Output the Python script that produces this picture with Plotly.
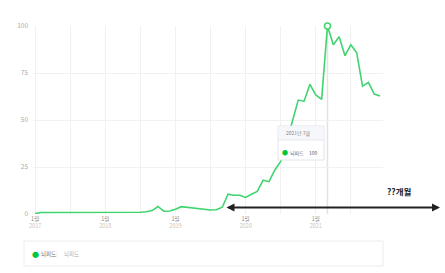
import plotly.graph_objects as go

years = [2017, 2018, 2019, 2020, 2021]
month_labels = ["1월", "", "", "", "", "", "", "", "", "", "", ""]
values = [
    # 2017
    0.2, 0.8, 0.8, 0.8, 0.9, 0.9, 0.9, 0.8, 0.8, 0.8, 0.8, 0.8,
    # 2018
    0.8, 0.8, 0.8, 0.7, 0.7, 0.8, 0.9, 1.2, 1.8, 4.0, 1.5, 1.6,
    # 2019
    2.5, 3.9, 3.5, 3.0, 2.5, 2.2, 2.1, 2.3, 3.6, 10.5, 10.0, 10.0,
    # 2020
    8.8, 10.5, 12.0, 18.0, 17.2, 23.4, 28.0, 38.0, 50.0, 60.6, 60.0, 69.0,
    # 2021
    63.3, 61.0, 100, 90.0, 94.3, 84.2, 90.0, 85.8, 68.0, 70.0, 63.8, 62.8,
]
series_name = "뇌피드"
peak_label = "2021년 3월"
arrow_text = "??개월"
y_ticks = [0, 25, 50, 75, 100]

idx = list(range(len(values)))
peak_i = values.index(max(values))

FONT = "Noto Sans CJK KR"
GREEN = "#3fd46f"
W, H = 445, 273
L, R, T, B = 33, 62, 26, 59
PW, PH = W - L - R, H - T - B


def px(x):
    return (x - L) / PW


def py(y):
    return (H - B - y) / PH


tickvals = list(range(0, len(values), 6))
ticktext = []
for v in tickvals:
    if v % 12 == 0:
        ticktext.append(
            f"<span style='color:#8a8a8a'>{month_labels[0]}</span><br>"
            f"<span style='color:#c4c4c4'>{years[v // 12]}</span>")
    else:
        ticktext.append("")

fig = go.Figure()
fig.add_trace(go.Scatter(
    x=idx, y=values, mode="lines", line=dict(color=GREEN, width=1.6),
    cliponaxis=False, showlegend=False, hoverinfo="skip"))
fig.add_trace(go.Scatter(
    x=[peak_i], y=[values[peak_i]], mode="markers", cliponaxis=False,
    marker=dict(symbol="circle", size=6, color="white",
                line=dict(color=GREEN, width=1.5)),
    showlegend=False, hoverinfo="skip"))

shapes = []
ann = []
# hover spike line
shapes.append(dict(type="line", xref="x", yref="paper", x0=peak_i, x1=peak_i,
                   y0=0, y1=1, line=dict(color="#e3e3e3", width=1.5), layer="below"))
# tooltip box
shapes.append(dict(type="rect", xref="paper", yref="paper",
                   x0=px(278), x1=px(324), y0=py(160), y1=py(126),
                   fillcolor="white", line=dict(color="#e2e4ea", width=1), layer="above"))
shapes.append(dict(type="rect", xref="paper", yref="paper",
                   x0=px(278.5), x1=px(323.5), y0=py(140), y1=py(126.5),
                   fillcolor="#f6f7fa", line=dict(width=0), layer="above"))
shapes.append(dict(type="line", xref="paper", yref="paper",
                   x0=px(278), x1=px(324), y0=py(140), y1=py(140),
                   line=dict(color="#e6e8ee", width=1), layer="above"))
ann.append(dict(text=peak_label, xref="paper", yref="paper", x=px(284), y=py(133),
                xanchor="left", yanchor="middle", showarrow=False,
                font=dict(family=FONT, size=5, color="#888")))
ann.append(dict(text="●", xref="paper", yref="paper", x=px(285), y=py(152.5),
                xanchor="center", yanchor="middle", showarrow=False,
                font=dict(family=FONT, size=6, color="#00c73c")))
ann.append(dict(text=series_name, xref="paper", yref="paper", x=px(288), y=py(152.5),
                xanchor="left", yanchor="middle", showarrow=False,
                font=dict(family=FONT, size=5, color="#555")))
ann.append(dict(text=str(int(max(values))), xref="paper", yref="paper", x=px(320), y=py(152.5),
                xanchor="right", yanchor="middle", showarrow=False,
                font=dict(family=FONT, size=5, color="#555")))

# double arrow
ann.append(dict(text="", xref="paper", yref="paper", x=px(440), y=py(207.5),
                ax=-215, ay=0, axref="pixel", ayref="pixel", showarrow=True,
                arrowhead=2, arrowside="end+start", arrowsize=0.8, arrowwidth=2,
                arrowcolor="#222"))
ann.append(dict(text=f"<b>{arrow_text}</b>", xref="paper", yref="paper", x=px(399),
                y=py(191), xanchor="center", yanchor="middle", showarrow=False,
                font=dict(family=FONT, size=8.5, color="#222")))

# legend box
shapes.append(dict(type="rect", xref="paper", yref="paper",
                   x0=px(24), x1=px(383), y0=py(266), y1=py(241),
                   fillcolor="white", line=dict(color="#ececec", width=1)))
ann.append(dict(text="●", xref="paper", yref="paper", x=px(35), y=py(253.5),
                xanchor="center", yanchor="middle", showarrow=False,
                font=dict(family=FONT, size=7, color="#00c73c")))
ann.append(dict(text=series_name, xref="paper", yref="paper", x=px(39), y=py(253.5),
                xanchor="left", yanchor="middle", showarrow=False,
                font=dict(family=FONT, size=5.5, color="#666")))
ann.append(dict(text="|", xref="paper", yref="paper", x=px(57), y=py(253.5),
                xanchor="center", yanchor="middle", showarrow=False,
                font=dict(family=FONT, size=6, color="#ddd")))
ann.append(dict(text=series_name, xref="paper", yref="paper", x=px(62), y=py(253.5),
                xanchor="left", yanchor="middle", showarrow=False,
                font=dict(family=FONT, size=5.5, color="#aaa")))

fig.update_layout(
    width=W, height=H, margin=dict(l=L, r=R, t=T, b=B),
    paper_bgcolor="white", plot_bgcolor="white",
    font=dict(family=FONT, size=6, color="#999"),
    shapes=shapes, annotations=ann, showlegend=False,
    xaxis=dict(range=[-0.37, 59.5], tickvals=tickvals, ticktext=ticktext,
               showgrid=True, gridcolor="#f1f1f1", gridwidth=1, zeroline=False,
               showline=False, ticks="", tickfont=dict(size=5.5), fixedrange=True),
    yaxis=dict(range=[0, 100], tickvals=y_ticks, ticktext=[str(v) for v in y_ticks],
               showgrid=True, gridcolor="#f1f1f1", gridwidth=1, zeroline=False,
               showline=False, ticks="", tickfont=dict(size=6.5, color="#aaa"),
               ticklabelstandoff=4, fixedrange=True),
)

fig.write_html("out.html")
